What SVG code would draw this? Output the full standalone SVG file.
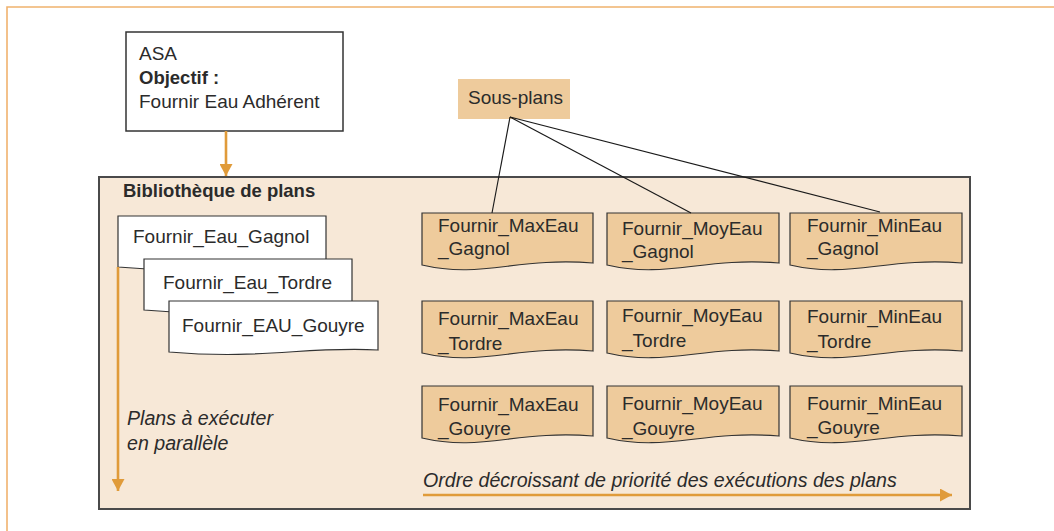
<svg xmlns="http://www.w3.org/2000/svg" width="1054" height="531" viewBox="0 0 1054 531">
<defs>
<style>
text{font-family:"Liberation Sans",Arial,sans-serif;fill:#2b2b2b;font-size:19px}
.b{font-weight:bold;font-size:18.5px}
.i{font-style:italic;font-size:19.6px}
.frame{fill:none;stroke:#f0b26e;stroke-width:1.6}
.lib{fill:#f7e8d7;stroke:#4a4a4a;stroke-width:2}
.doc{fill:#ffffff;stroke:#333;stroke-width:1.2}
.sp{fill:#eecb9c;stroke:#333;stroke-width:1.2}
.box{fill:#ffffff;stroke:#333;stroke-width:1.5}
.oarr{stroke:#e09b3a;stroke-width:2.6;fill:none}
.thin{stroke:#1a1a1a;stroke-width:1.2;fill:none}
</style>
<marker id="ah" markerUnits="userSpaceOnUse" viewBox="0 0 12 13" refX="12" refY="6.5" markerWidth="12" markerHeight="13" orient="auto">
<path d="M0,0 L12,6.5 L0,13 z" fill="#e09b3a"/>
</marker>
</defs>
<rect width="1054" height="531" fill="#ffffff"/>
<path class="frame" d="M7,531 V7 H1054"/>

<g id="bibliotheque">
<rect class="lib" x="99" y="177" width="871" height="332"/>
<text class="b" x="123" y="197">Bibliothèque de plans</text>
</g>

<g id="asa">
<rect class="box" x="126" y="32" width="217" height="99"/>
<text x="139" y="60">ASA</text>
<text class="b" x="139" y="84">Objectif :</text>
<text x="139" y="108">Fournir Eau Adhérent</text>
</g>

<g id="sous-plans">
<rect x="458" y="79" width="112" height="40" fill="#eecb9c"/>
<text x="468" y="104">Sous-plans</text>
</g>

<g id="doc-gagnol">
<path class="doc" d="M118,216 H326 V265 C253,261 212,275 118,267 Z"/>
<text x="133" y="243">Fournir_Eau_Gagnol</text>
</g>
<g id="doc-tordre">
<path class="doc" d="M144,259 H352 V308 C279,304 238,318 144,310 Z"/>
<text x="163" y="289">Fournir_Eau_Tordre</text>
</g>
<g id="doc-gouyre">
<path class="doc" d="M169,301 H378 V350 C305,346 264,360 169,352 Z"/>
<text x="182" y="332">Fournir_EAU_Gouyre</text>
</g>

<g id="max-gagnol">
<path class="sp" d="M422,213 H593 V263 C516,257 482,279 422,265 Z"/>
<text x="438" y="232">Fournir_MaxEau</text><text x="438" y="255">_Gagnol</text>
</g>
<g id="moy-gagnol">
<path class="sp" d="M607,213 H779 V263 C702,257 667,279 607,265 Z"/>
<text x="622" y="235">Fournir_MoyEau</text><text x="622" y="258">_Gagnol</text>
</g>
<g id="min-gagnol">
<path class="sp" d="M790,213 H962 V263 C885,257 850,279 790,265 Z"/>
<text x="807" y="232">Fournir_MinEau</text><text x="807" y="255">_Gagnol</text>
</g>

<g id="max-tordre">
<path class="sp" d="M422,301 H593 V351 C516,345 482,367 422,353 Z"/>
<text x="438" y="325">Fournir_MaxEau</text><text x="438" y="350">_Tordre</text>
</g>
<g id="moy-tordre">
<path class="sp" d="M607,301 H779 V351 C702,345 667,367 607,353 Z"/>
<text x="622" y="322">Fournir_MoyEau</text><text x="622" y="347">_Tordre</text>
</g>
<g id="min-tordre">
<path class="sp" d="M790,301 H962 V351 C885,345 850,367 790,353 Z"/>
<text x="807" y="323">Fournir_MinEau</text><text x="807" y="348">_Tordre</text>
</g>

<g id="max-gouyre">
<path class="sp" d="M422,386 H593 V436 C516,430 482,452 422,438 Z"/>
<text x="438" y="411">Fournir_MaxEau</text><text x="438" y="435">_Gouyre</text>
</g>
<g id="moy-gouyre">
<path class="sp" d="M607,386 H779 V436 C702,430 667,452 607,438 Z"/>
<text x="622" y="410">Fournir_MoyEau</text><text x="622" y="435">_Gouyre</text>
</g>
<g id="min-gouyre">
<path class="sp" d="M790,386 H962 V436 C885,430 850,452 790,438 Z"/>
<text x="807" y="410">Fournir_MinEau</text><text x="807" y="434">_Gouyre</text>
</g>

<g id="labels">
<text class="i" x="127" y="425">Plans à exécuter</text>
<text class="i" x="127" y="450">en parallèle</text>
<text class="i" x="423" y="487">Ordre décroissant de priorité des exécutions des plans</text>
</g>

<g id="connectors">
<line class="oarr" x1="226" y1="131" x2="226" y2="176" marker-end="url(#ah)"/>
<line class="oarr" x1="118" y1="267" x2="118" y2="491" marker-end="url(#ah)"/>
<line class="oarr" x1="423" y1="495" x2="952" y2="495" marker-end="url(#ah)"/>
<line class="thin" x1="510" y1="117" x2="492" y2="213"/>
<line class="thin" x1="510" y1="117" x2="691" y2="213"/>
<line class="thin" x1="510" y1="117" x2="880" y2="212"/>
</g>
</svg>
